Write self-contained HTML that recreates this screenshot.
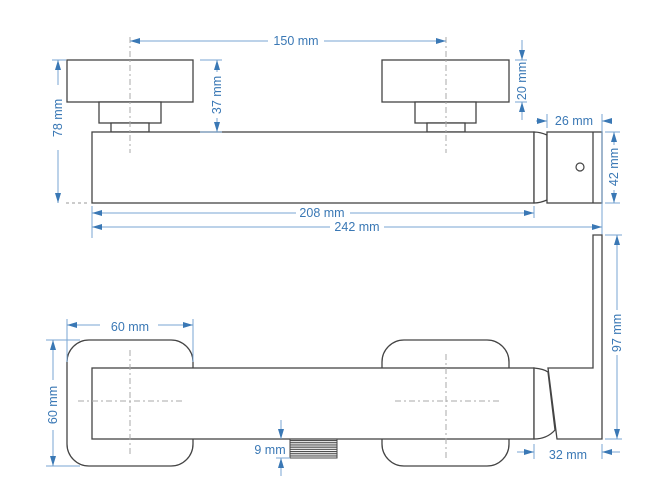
<!DOCTYPE html>
<html><head><meta charset="utf-8"><style>
html,body{margin:0;padding:0;background:#fff;width:670px;height:504px;overflow:hidden}
text{font-family:"Liberation Sans",sans-serif;font-size:12.5px;fill:#3a78b5}
.o{fill:#fff;stroke:#444;stroke-width:1.3}
.d{stroke:#7aa6d3;stroke-width:1;fill:none}
.c{stroke:#aaa;stroke-width:1;stroke-dasharray:6,3,2,3;fill:none}
</style></head><body>
<svg width="670" height="504" viewBox="0 0 670 504" xmlns="http://www.w3.org/2000/svg">
<defs>
<marker id="a" viewBox="0 0 10 6" refX="10" refY="3" markerWidth="10" markerHeight="6" orient="auto-start-reverse" markerUnits="userSpaceOnUse"><path d="M0,0 L10,3 L0,6 Z" fill="#3a78b5"/></marker>
<pattern id="th" width="4" height="2.2" patternUnits="userSpaceOnUse"><rect width="4" height="1.1" fill="#444"/></pattern>
</defs>
<rect class="o" x="67" y="60" width="126" height="42"/>
<rect class="o" x="99" y="102" width="62" height="21"/>
<rect class="o" x="111" y="123" width="38" height="9"/>
<rect class="o" x="382" y="60" width="127" height="42"/>
<rect class="o" x="415" y="102" width="61" height="21"/>
<rect class="o" x="427" y="123" width="38" height="9"/>
<rect class="o" x="92" y="132" width="442" height="71"/>
<path class="o" d="M534,132 Q540,132 547,135 L547,200 Q540,203 534,203 Z"/>
<rect class="o" x="547" y="132" width="55" height="71"/>
<line x1="593" y1="132" x2="593" y2="203" stroke="#444" stroke-width="1.3"/>
<circle cx="580" cy="167" r="4" fill="#fff" stroke="#444" stroke-width="1.2"/>
<line class="c" x1="130" y1="37" x2="130" y2="153"/>
<line class="c" x1="446" y1="37" x2="446" y2="153"/>
<line x1="66" y1="203" x2="90" y2="203" stroke="#999" stroke-dasharray="3,3"/>
<line class="d" x1="130" y1="41" x2="268" y2="41" marker-start="url(#a)"/>
<line class="d" x1="324" y1="41" x2="446" y2="41" marker-end="url(#a)"/>
<text x="296" y="45" text-anchor="middle">150 mm</text>
<line class="d" x1="200" y1="60" x2="222" y2="60"/>
<line class="d" x1="200" y1="132" x2="222" y2="132"/>
<line class="d" x1="217" y1="60" x2="217" y2="72" marker-start="url(#a)"/>
<line class="d" x1="217" y1="118" x2="217" y2="132" marker-end="url(#a)"/>
<text transform="translate(221,95) rotate(-90)" text-anchor="middle">37 mm</text>
<line class="d" x1="52" y1="60" x2="66" y2="60"/>
<line class="d" x1="58" y1="60" x2="58" y2="85" marker-start="url(#a)"/>
<line class="d" x1="58" y1="150" x2="58" y2="203" marker-end="url(#a)"/>
<text transform="translate(62,118) rotate(-90)" text-anchor="middle">78 mm</text>
<line class="d" x1="515" y1="60" x2="527" y2="60"/>
<line class="d" x1="515" y1="102" x2="527" y2="102"/>
<line class="d" x1="522" y1="40" x2="522" y2="60" marker-end="url(#a)"/>
<line class="d" x1="522" y1="102" x2="522" y2="120" marker-start="url(#a)"/>
<text transform="translate(526,81) rotate(-90)" text-anchor="middle">20 mm</text>
<line class="d" x1="92" y1="206" x2="92" y2="238"/>
<line class="d" x1="534" y1="206" x2="534" y2="218"/>
<line class="d" x1="92" y1="213" x2="296" y2="213" marker-start="url(#a)"/>
<line class="d" x1="350" y1="213" x2="534" y2="213" marker-end="url(#a)"/>
<text x="322" y="217" text-anchor="middle">208 mm</text>
<line class="d" x1="92" y1="227" x2="330" y2="227" marker-start="url(#a)"/>
<line class="d" x1="384" y1="227" x2="602" y2="227" marker-end="url(#a)"/>
<text x="357" y="231" text-anchor="middle">242 mm</text>
<line class="d" x1="547" y1="114" x2="547" y2="128"/>
<line class="d" x1="602" y1="114" x2="602" y2="240"/>
<line class="d" x1="536" y1="121" x2="547" y2="121" marker-end="url(#a)"/>
<line class="d" x1="612" y1="121" x2="602" y2="121" marker-end="url(#a)"/>
<text x="574" y="125" text-anchor="middle">26 mm</text>
<line class="d" x1="605" y1="132" x2="620" y2="132"/>
<line class="d" x1="605" y1="203" x2="620" y2="203"/>
<line class="d" x1="614" y1="132" x2="614" y2="145" marker-start="url(#a)"/>
<line class="d" x1="614" y1="190" x2="614" y2="203" marker-end="url(#a)"/>
<text transform="translate(618,167) rotate(-90)" text-anchor="middle">42 mm</text>
<rect class="o" x="67" y="340" width="126" height="126" rx="22"/>
<rect class="o" x="382" y="340" width="127" height="126" rx="22"/>
<rect class="o" x="92" y="368" width="442" height="71"/>
<path class="o" d="M534,368 Q544,369 548,372 L555,430 Q547,439 534,439 Z"/>
<path class="o" d="M548,368 L593,368 L593,235 L602,235 L602,439 L557,439 Z"/>
<rect x="290" y="439" width="47" height="19" fill="url(#th)" stroke="#444" stroke-width="1"/>
<line class="c" x1="130" y1="350" x2="130" y2="456"/>
<line class="c" x1="78" y1="401" x2="184" y2="401"/>
<line class="c" x1="446" y1="354" x2="446" y2="458"/>
<line class="c" x1="395" y1="401" x2="500" y2="401"/>
<line class="d" x1="67" y1="319" x2="67" y2="362"/>
<line class="d" x1="193" y1="319" x2="193" y2="362"/>
<line class="d" x1="67" y1="325" x2="100" y2="325" marker-start="url(#a)"/>
<line class="d" x1="158" y1="325" x2="193" y2="325" marker-end="url(#a)"/>
<text x="130" y="331" text-anchor="middle">60 mm</text>
<line class="d" x1="46" y1="340" x2="80" y2="340"/>
<line class="d" x1="46" y1="466" x2="80" y2="466"/>
<line class="d" x1="53" y1="340" x2="53" y2="380" marker-start="url(#a)"/>
<line class="d" x1="53" y1="430" x2="53" y2="466" marker-end="url(#a)"/>
<text transform="translate(57,405) rotate(-90)" text-anchor="middle">60 mm</text>
<line class="d" x1="605" y1="235" x2="622" y2="235"/>
<line class="d" x1="605" y1="439" x2="622" y2="439"/>
<line class="d" x1="617" y1="235" x2="617" y2="310" marker-start="url(#a)"/>
<line class="d" x1="617" y1="355" x2="617" y2="439" marker-end="url(#a)"/>
<text transform="translate(621,333) rotate(-90)" text-anchor="middle">97 mm</text>
<line class="d" x1="534" y1="444" x2="534" y2="459"/>
<line class="d" x1="602" y1="444" x2="602" y2="459"/>
<line class="d" x1="517" y1="452" x2="534" y2="452" marker-end="url(#a)"/>
<line class="d" x1="620" y1="452" x2="602" y2="452" marker-end="url(#a)"/>
<text x="568" y="459" text-anchor="middle">32 mm</text>
<line class="d" x1="281" y1="420" x2="281" y2="439" marker-end="url(#a)"/>
<line class="d" x1="281" y1="476" x2="281" y2="458" marker-end="url(#a)"/>
<line class="d" x1="276" y1="458" x2="290" y2="458"/>
<text x="270" y="454" text-anchor="middle">9 mm</text>
</svg>
</body></html>
